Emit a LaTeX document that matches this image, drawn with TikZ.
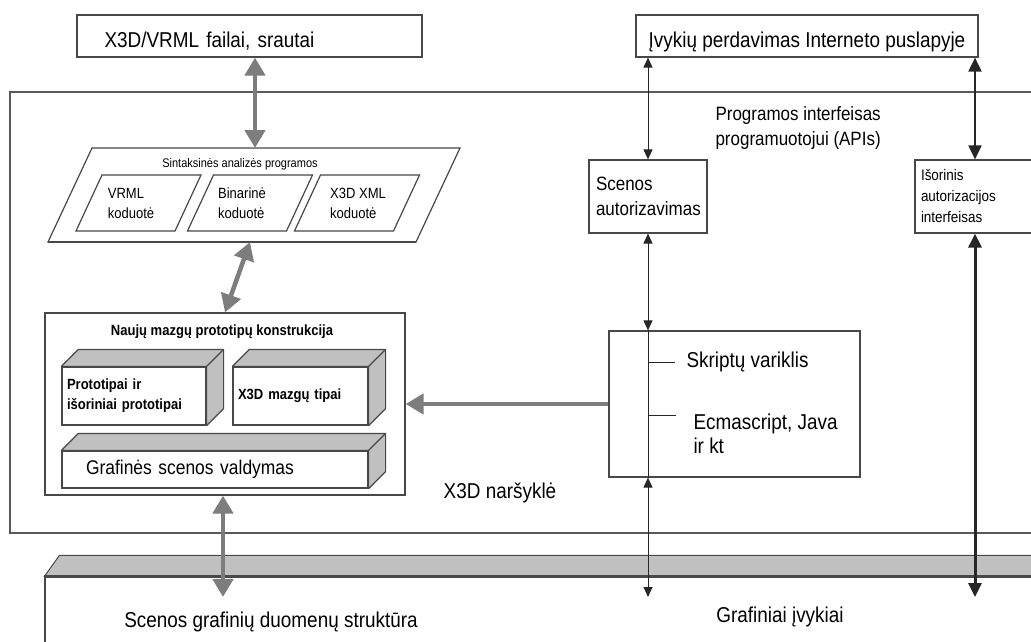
\documentclass[tikz,border=0pt]{standalone}
\usepackage{fontspec}
\setmainfont{Liberation Sans}[FakeStretch=0.88]
\usetikzlibrary{arrows.meta}
\definecolor{rim}{RGB}{72,72,72}
\definecolor{lid}{RGB}{192,192,192}
\definecolor{pipe}{RGB}{125,125,125}
\providecommand*{\dpth}{}
\providecommand*{\slabY}{}
\renewcommand*{\dpth}{17}
\renewcommand*{\slabY}{597}

\begin{document}
\begin{tikzpicture}[x=1pt,y=-1pt,
  box/.style={draw=rim,line width=1.2pt,fill=white,inner sep=0pt},
  lowtext/.style={text height=26pt,text depth=2pt},
  big/.style={font=\fontsize{21.5}{24}\selectfont},
  mid/.style={font=\fontsize{19.3}{25}\selectfont},
  tiny/.style={font=\fontsize{14.8}{20}\selectfont},
  heavy/.style={font=\fontsize{14.8}{20}\selectfont\bfseries},
  fat/.style={draw=pipe,line width=4.5pt,{Triangle[length=18pt,width=20pt]}-{Triangle[length=18pt,width=20pt]}},
  wire/.style={draw=black!85,line width=1pt,{Triangle[length=10pt,width=9pt]}-{Triangle[length=10pt,width=9pt]}},
  rod/.style={draw=black!85,{Triangle[length=14pt,width=13pt]}-{Triangle[length=14pt,width=13pt]}}]
  \useasboundingbox (0,0) rectangle (1031,642);
  \clip (0,0) rectangle (1031,642);
  \node[draw=black!65,line width=1.6pt,minimum width=1035,minimum height=441] (browser) at (527.5,312.5) {};
  \node[box,minimum width=345,minimum height=42,big,lowtext,text width=290,align=left] (files) at (249.5,36) {X3D/VRML failai, srautai};
  \node[box,minimum width=342,minimum height=42,big,lowtext] (events) at (807,36) {Įvykių perdavimas Interneto puslapyje};
  \node[mid,align=left,anchor=north west] (api) at (712,103) {Programos interfeisas\\programuotojui (APIs)};
  \node[big] (browsertxt) at (500,493) {X3D naršyklė};
  \path (48,242) coordinate (parseBL) (92,148) coordinate (parseTL) (460,148) coordinate (parseTR) (416,242) coordinate (parseBR);
  \coordinate (parseN) at (255,148);
  \coordinate (parseS) at (250,242);
  \draw[box] (parseBL) -- (parseTL) -- (parseTR) -- (parseBR) -- cycle;
  \draw[rim,line width=2.6pt] (parseBL) -- (parseBR);
  \node[font=\fontsize{12.5}{14}\selectfont] (parsetxt) at (240,164) {Sintaksinės analizės programos};
  \foreach \x/\n/\t/\c in {138.5/vrml/VRML/131,250/binary/Binarinė/242,357/xml/X3D XML/358} {
    \draw[box] (\x-62.5,231) -- ++(26,-56) -- ++(99,0) -- ++(-26,56) -- cycle;
    \node[tiny,align=left] (\n) at (\c,203) {\t\\koduotė};
  }
  \node[box,minimum width=360,minimum height=182] (proto) at (225,404) {};
  \node[heavy] (prototxt) at (222,332) {Naujų mazgų prototipų konstrukcija};
  \node[box,minimum width=144,minimum height=58,text width=134,align=left,heavy] (protos) at (134,396) {Prototipai ir\\išoriniai prototipai};
  \node[box,minimum width=135,minimum height=58,text width=125,align=left,heavy] (types) at (300.5,396) {X3D mazgų tipai};
  \node[box,minimum width=306,minimum height=37,text width=258,align=left,font=\fontsize{19.8}{22}\selectfont] (scene) at (215,469.5) {Grafinės scenos valdymas};
  \foreach \b in {protos,types,scene} {
    \filldraw[draw=rim,fill=lid,line width=1.2pt,line join=round] (\b.north west) -- ++(\dpth,-\dpth) -- ([shift={(\dpth,-\dpth)}]\b.north east) -- ([shift={(\dpth,-\dpth)}]\b.south east) -- (\b.south east) -- (\b.north east) -- cycle;
    \draw[rim,line width=1.2pt] (\b.north east) -- ++(\dpth,-\dpth);
  }
  \node[box,minimum width=118,minimum height=73,text width=104,align=left,mid] (auth) at (648,196.5) {Scenos\\autorizavimas};
  \node[box,minimum width=120,minimum height=73,text width=108,align=left,font=\fontsize{15.3}{21}\selectfont] (ext) at (975,196.5) {Išorinis\\autorizacijos\\interfeisas};
  \node[box,minimum width=251,minimum height=146] (script) at (734.5,404) {};
  \node[big,anchor=west] (engine) at (683,362) {Skriptų variklis};
  \node[big,align=left,anchor=north west] (langs) at (690,410) {Ecmascript, Java\\ir kt};
  \draw[black!85,line width=1pt] (auth.south |- engine.west) -- ++(27,0);
  \draw[black!85,line width=1pt] (auth.south |- langs.north) ++(0,5) -- ++(28,0);
  \node[box,minimum width=1000,minimum height=123] (slab) at (545,638.5) {};
  \filldraw[draw=rim,fill=lid,line width=1pt] (slab.north west) -- ++(15,-21) -- ([shift={(15,-21)}]slab.north east) -- (slab.north east) -- cycle;
  \draw[rim,line width=2.4pt] (slab.north west) -- (slab.north east);
  \node[big] (datatxt) at (271,622) {Scenos grafinių duomenų struktūra};
  \node[big] (evtxt) at (780,617) {Grafiniai įvykiai};
  \coordinate (datain) at (223,\slabY);
  \coordinate (evtin) at (648,\slabY);
  \coordinate (extin) at (975,\slabY);
  \draw[fat] (files.south -| parseN) -- (parseN);
  \draw[fat] (parseS) -- (proto.north);
  \draw[fat] (datain |- proto.south) -- (datain);
  \draw[draw=pipe,line width=4.5pt,-{Triangle[length=18pt,width=20pt]}] (script.west) -- (proto.east);
  \draw[wire] (auth.north |- events.south) -- (auth.north);
  \draw[wire] (auth.south) -- (auth.south |- script.north);
  \draw[black!85,line width=1pt] (auth.south |- script.north) -- (auth.south |- script.south);
  \draw[wire] (auth.south |- script.south) -- (evtin);
  \draw[rod,line width=2pt] (ext.north |- events.south) -- (ext.north);
  \draw[rod,line width=3pt] (ext.south) -- (extin);
\end{tikzpicture}
\end{document}
